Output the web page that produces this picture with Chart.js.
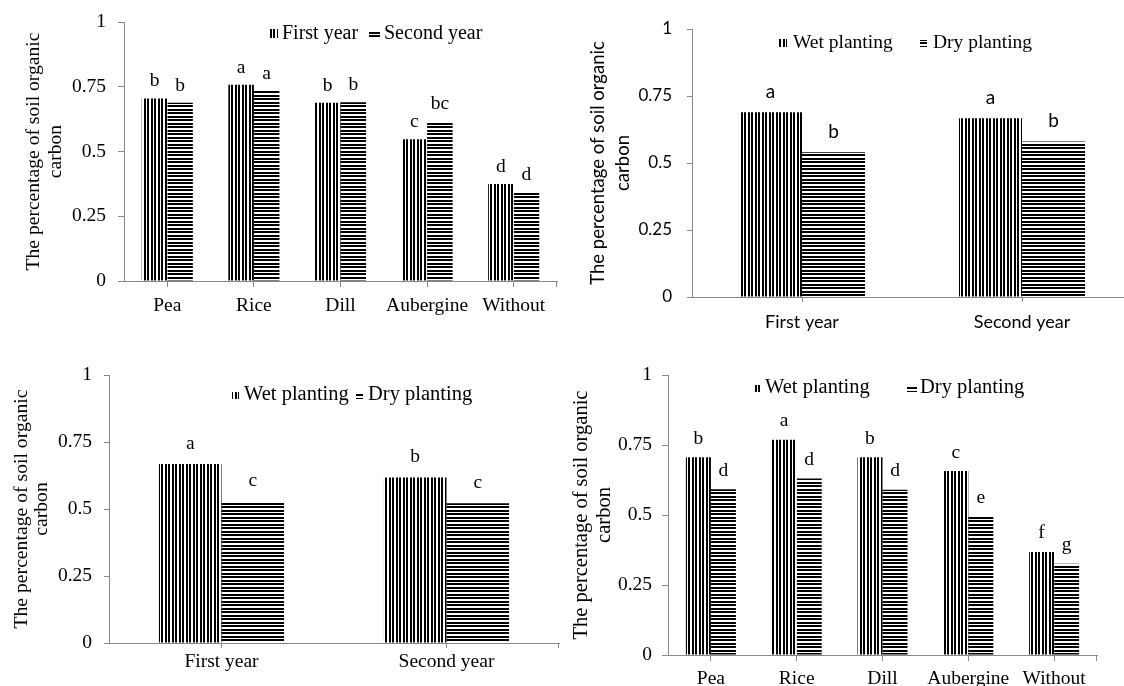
<!DOCTYPE html>
<html>
<head>
<meta charset="utf-8">
<script src="https://cdn.jsdelivr.net/npm/chart.js@4.4.1/dist/chart.umd.min.js"></script>
<style>
  html, body { margin: 0; padding: 0; background: #fff; }
  body { position: relative; width: 1124px; height: 686px; overflow: hidden; }
  canvas { position: absolute; }
</style>
</head>
<body>
<canvas id="c1" width="562" height="345" style="left:0;top:0"></canvas>
<canvas id="c2" width="600" height="345" style="left:562px;top:0"></canvas>
<canvas id="c3" width="562" height="341" style="left:0;top:345px"></canvas>
<canvas id="c4" width="562" height="341" style="left:562px;top:345px"></canvas>
<script>
// ---- data ----
const crops = ['Pea', 'Rice', 'Dill', 'Aubergine', 'Without'];
const years = ['First year', 'Second year'];
const yearSeries = ['First year', 'Second year'];
const plantingSeries = ['Wet planting', 'Dry planting'];
const yTitle = ['The percentage of soil organic', 'carbon'];
const yTickStep = 0.25;

// (a) crops by year
const cropFirstYear = [0.705, 0.758, 0.688, 0.547, 0.375];
const cropSecondYear = [0.688, 0.735, 0.690, 0.617, 0.345];
const cropFirstYearLetters = ['b', 'a', 'b', 'c', 'd'];
const cropSecondYearLetters = ['b', 'a', 'b', 'bc', 'd'];

// (b) planting method by year
const yearWet = [0.689, 0.667];
const yearDry = [0.540, 0.580];
const yearWetLetters = ['a', 'a'];
const yearDryLetters = ['b', 'b'];

// (c) planting method by year, second site
const siteWet = [0.668, 0.618];
const siteDry = [0.530, 0.521];
const siteWetLetters = ['a', 'b'];
const siteDryLetters = ['c', 'c'];

// (d) planting method by crop
const cropWet = [0.706, 0.769, 0.706, 0.657, 0.368];
const cropDry = [0.592, 0.630, 0.590, 0.495, 0.326];
const cropWetLetters = ['b', 'a', 'b', 'c', 'f'];
const cropDryLetters = ['d', 'd', 'd', 'e', 'g'];

// ---- styling ----
const SERIF = '"Liberation Serif", "Times New Roman", serif';
const SANS = 'Lato, "Open Sans", sans-serif';
const AXIS = '#898989';

function stripes(ctx, vertical) {
  const t = document.createElement('canvas');
  t.width = 7; t.height = 7;
  const g = t.getContext('2d');
  g.fillStyle = '#fff'; g.fillRect(0, 0, 7, 7);
  g.fillStyle = '#000';
  if (vertical) { g.fillRect(0, 0, 2, 7); g.fillRect(4, 0, 2, 7); }
  else { g.fillRect(0, 0, 7, 2); g.fillRect(0, 4, 7, 2); }
  return ctx.createPattern(t, 'repeat');
}

// letters above bars, custom legend, closing tick on the category axis
const marks = {
  id: 'marks',
  afterDatasetsDraw(chart, args, o) {
    const ctx = chart.ctx;
    ctx.save();
    ctx.fillStyle = '#000';
    ctx.font = o.font;
    ctx.textAlign = 'center';
    ctx.textBaseline = 'alphabetic';
    o.letters.forEach((arr, di) => {
      chart.getDatasetMeta(di).data.forEach((bar, i) => {
        ctx.fillText(arr[i], bar.x, bar.y - o.gap);
      });
    });
    const a = chart.chartArea;
    ctx.strokeStyle = AXIS; ctx.lineWidth = 1;
    const rx = Math.round(a.right) - 0.5;
    ctx.beginPath(); ctx.moveTo(rx, a.bottom); ctx.lineTo(rx, a.bottom + o.tick); ctx.stroke();

    const L = o.legend;
    ctx.font = L.font;
    ctx.textAlign = 'left';
    chart.data.datasets.forEach((ds, di) => {
      const sx = L.x[di], sw = L.box[di][0], sh = L.box[di][1];
      ctx.fillStyle = ds.backgroundColor;
      ctx.fillRect(sx, L.y - 1 - sh, sw, sh);
      ctx.fillStyle = '#000';
      ctx.fillText(ds.label, sx + sw + L.gap, L.y);
    });
    ctx.restore();
  }
};

function panel(id, p) {
  const canvas = document.getElementById(id);
  const ctx = canvas.getContext('2d');
  const vert = stripes(ctx, true), horiz = stripes(ctx, false);
  return new Chart(ctx, {
    type: 'bar',
    data: {
      labels: p.labels,
      datasets: [
        { label: p.names[0], data: p.a, backgroundColor: vert, borderWidth: 0,
          categoryPercentage: p.cat, barPercentage: 1 },
        { label: p.names[1], data: p.b, backgroundColor: horiz, borderWidth: 0,
          categoryPercentage: p.cat, barPercentage: 1 }
      ]
    },
    options: {
      responsive: false,
      animation: false,
      devicePixelRatio: 1,
      layout: { padding: { left: 0, top: p.top, right: p.right, bottom: 0 } },
      plugins: {
        legend: { display: false },
        tooltip: { enabled: false },
        marks: { letters: [p.la, p.lb], gap: p.gap, font: p.labelFont, tick: p.xTick,
                 legend: p.legend }
      },
      scales: {
        x: {
          grid: { offset: false, drawOnChartArea: false, drawTicks: true, tickLength: p.xTick, color: AXIS },
          border: { color: AXIS, width: 1 },
          ticks: { color: '#000', font: p.xFont, padding: p.xPad, maxRotation: 0, autoSkip: false },
          afterFit: s => { s.height = p.xH; s.paddingLeft = 0; s.paddingRight = 0; }
        },
        y: {
          min: 0, max: 1,
          grid: { drawOnChartArea: false, drawTicks: true, tickLength: p.yTick, color: AXIS },
          border: { color: AXIS, width: 1 },
          ticks: { stepSize: yTickStep, color: '#000', font: p.yFont, padding: p.yPad,
                   callback: v => String(Math.round(v * 100) / 100) },
          title: { display: true, text: yTitle, color: '#000', font: p.titleFont,
                   padding: { top: p.titlePad, bottom: 0 } },
          afterFit: s => { s.width = p.yW; s.paddingTop = 0; s.paddingBottom = 0; }
        }
      }
    },
    plugins: [marks]
  });
}

panel('c1', {
  labels: crops, names: yearSeries, a: cropFirstYear, b: cropSecondYear,
  la: cropFirstYearLetters, lb: cropSecondYearLetters,
  cat: 0.59, top: 22, right: 5, yW: 124, xH: 64,
  xTick: 6, yTick: 6, xPad: 7, yPad: 12, gap: 12,
  xFont: { family: SERIF, size: 19.5 }, yFont: { family: SERIF, size: 19.5 },
  titleFont: { family: SERIF, size: 19.6, lineHeight: 22 / 19.6 }, titlePad: 23,
  labelFont: '19.5px ' + SERIF,
  legend: { x: [270, 369], box: [[8, 9], [11, 6]], y: 39, gap: 4, font: '20px ' + SERIF }
});

panel('c2', {
  labels: years, names: plantingSeries, a: yearWet, b: yearDry,
  la: yearWetLetters, lb: yearDryLetters,
  cat: 0.573, top: 29, right: 30, yW: 130, xH: 48,
  xTick: 5, yTick: 5, xPad: 9, yPad: 15, gap: 14.5,
  xFont: { family: SANS, size: 18 }, yFont: { family: SANS, size: 17 },
  titleFont: { family: SANS, size: 18.5, lineHeight: 25 / 18.5 }, titlePad: 23.5,
  labelFont: '19px ' + SANS,
  legend: { x: [217, 358], box: [[8, 8], [7, 7]], y: 48, gap: 6, font: '19.5px ' + SERIF }
});

panel('c3', {
  labels: years, names: plantingSeries, a: siteWet, b: siteDry,
  la: siteWetLetters, lb: siteDryLetters,
  cat: 0.556, top: 30, right: 3, yW: 109, xH: 43,
  xTick: 5, yTick: 5, xPad: 2, yPad: 12, gap: 15,
  xFont: { family: SERIF, size: 19.5 }, yFont: { family: SERIF, size: 19.5 },
  titleFont: { family: SERIF, size: 19.7, lineHeight: 20 / 19.7 }, titlePad: 12,
  labelFont: '19.5px ' + SERIF,
  legend: { x: [232, 356], box: [[7, 7], [7, 6]], y: 55, gap: 5, font: '20.5px ' + SERIF }
});

panel('c4', {
  labels: crops, names: plantingSeries, a: cropWet, b: cropDry,
  la: cropWetLetters, lb: cropDryLetters,
  cat: 0.583, top: 30, right: 27, yW: 106, xH: 31,
  xTick: 6, yTick: 6, xPad: 6, yPad: 10, gap: 13.5,
  xFont: { family: SERIF, size: 19.5 }, yFont: { family: SERIF, size: 19.5 },
  titleFont: { family: SERIF, size: 20.5, lineHeight: 23 / 20.5 }, titlePad: 8.5,
  labelFont: '19.5px ' + SERIF,
  legend: { x: [193, 345], box: [[7, 7], [10, 6]], y: 48, gap: 3, font: '20.5px ' + SERIF }
});
</script>
</body>
</html>
